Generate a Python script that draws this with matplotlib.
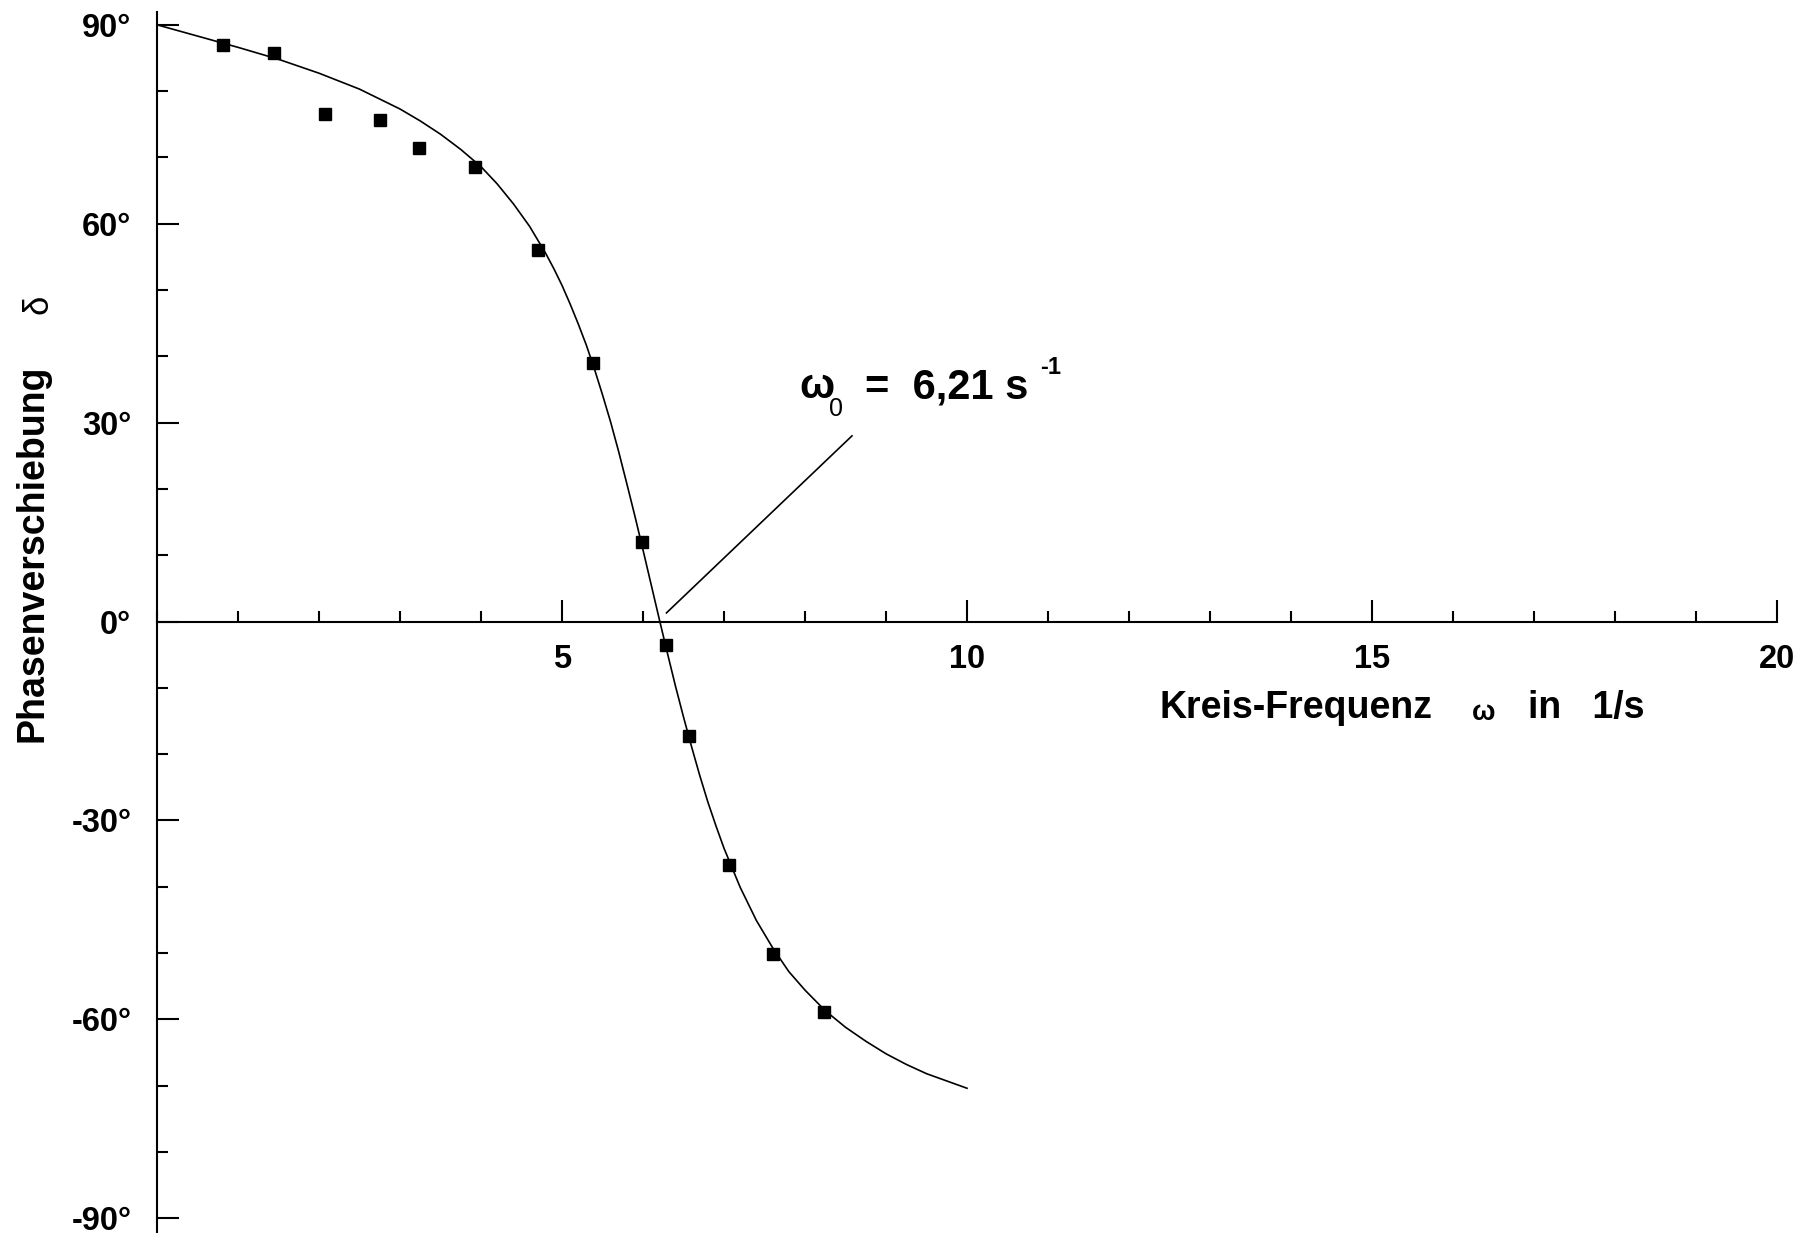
import matplotlib
matplotlib.use("Agg")
import matplotlib.pyplot as plt
from matplotlib.ticker import MultipleLocator, FixedLocator

plt.rcParams['font.family'] = ['Liberation Sans', 'DejaVu Sans']
plt.rcParams['font.weight'] = 'bold'

# measured phase shift (omega in 1/s, delta in degrees)
omega_meas = [0.81, 1.44, 2.08, 2.75, 3.23, 3.93, 4.70, 5.38, 5.99, 6.28, 6.57, 7.06, 7.61, 8.23]
delta_meas = [87.0, 85.7, 76.5, 75.7, 71.4, 68.6, 56.0, 39.0, 12.0, -3.5, -17.3, -36.8, -50.2, -58.9]

# fitted curve
omega_fit = [0.0, 0.5, 1.0, 1.5, 2.0, 2.5, 3.0, 3.25, 3.5, 3.75, 4.0, 4.2, 4.4, 4.6,
             4.8, 4.9, 5.0, 5.1, 5.2, 5.3, 5.4, 5.5, 5.6, 5.7, 5.8, 5.9, 6.0, 6.1,
             6.2, 6.3, 6.4, 6.5, 6.6, 6.7, 6.8, 6.9, 7.0, 7.2, 7.4, 7.6, 7.8, 8.0,
             8.25, 8.5, 8.75, 9.0, 9.25, 9.5, 9.75, 10.0]
delta_fit = [90.0, 88.3, 86.6, 84.8, 82.7, 80.3, 77.3, 75.5, 73.5, 71.2, 68.6, 66.0, 63.0, 59.6,
             55.5, 53.2, 50.7, 47.9, 44.9, 41.7, 38.1, 34.2, 30.1, 25.6, 20.8, 15.9, 10.8, 5.6,
             0.4, -4.7, -9.7, -14.4, -18.9, -23.2, -27.2, -30.8, -34.2, -40.1, -45.1, -49.2, -52.8, -55.6,
             -58.7, -61.2, -63.3, -65.2, -66.8, -68.2, -69.3, -70.4]

omega_0 = 6.21
yticks = [-90, -60, -30, 0, 30, 60, 90]
ytick_labels = [f"{t}°" for t in yticks]
xticks = [5, 10, 15, 20]

W, H = 1814, 1233
fig = plt.figure(figsize=(W / 100, H / 100), dpi=100)

# axes placement in pixels
x0px, xscale = 157, 81.0
y0px, yscale = 621.5, 6.63
ylo, yhi = -92.4, 91.9
top_px = y0px - yhi * yscale
bot_px = y0px - ylo * yscale
ax = fig.add_axes([x0px / W, (H - bot_px) / H, 20 * xscale / W, (bot_px - top_px) / H])
ax.set_xlim(0, 20)
ax.set_ylim(ylo, yhi)

ax.plot(omega_fit, delta_fit, color='black', lw=1.2, zorder=2)
ax.plot(omega_meas, delta_meas, 's', color='black', ms=8, zorder=3)

for s in ('top', 'right'):
    ax.spines[s].set_visible(False)
ax.spines['bottom'].set_position(('data', 0))
for s in ('bottom', 'left'):
    ax.spines[s].set_linewidth(1.5)

ax.xaxis.set_major_locator(FixedLocator(xticks))
ax.xaxis.set_minor_locator(MultipleLocator(1))
ax.set_xticklabels([str(t) for t in xticks])
ax.set_yticks(yticks)
ax.set_yticklabels(ytick_labels)
ax.yaxis.set_minor_locator(MultipleLocator(10))

ax.tick_params(which='major', direction='in', length=15.6, width=1.5, labelsize=23.5)
ax.tick_params(which='minor', direction='in', length=7.9, width=1.5)
ax.tick_params(axis='y', which='major', pad=18.5)
ax.tick_params(axis='x', which='major', pad=16)

# axis titles
ax.text(12.38, -14.6, "Kreis-Frequenz", fontsize=27, ha='left', va='baseline')
ax.text(16.38, -14.9, "ω", fontsize=20, ha='center', va='baseline')
ax.text(16.93, -14.6, "in   1/s", fontsize=27, ha='left', va='baseline')

fig.text(33 / W, 1 - 553 / H, "Phasenverschiebung", fontsize=27, rotation=90,
         ha='center', va='center')
fig.text(38 / W, 1 - 304 / H, "δ", fontsize=25, rotation=90, fontweight='normal',
         ha='center', va='center')

# resonance annotation
ax.plot([6.29, 8.58], [1.3, 28.0], color='black', lw=1.2)
ax.text(7.93, 33.7, "ω", fontsize=30, ha='left', va='baseline')
ax.text(8.30, 31.0, "0", fontsize=18, fontweight='normal', ha='left', va='baseline')
ax.text(8.74, 33.7, f"=  {omega_0:.2f} s".replace('.', ','), fontsize=30,
        ha='left', va='baseline')
ax.text(10.90, 37.3, "-1", fontsize=17, ha='left', va='baseline')

fig.savefig("out.png", dpi=100)
